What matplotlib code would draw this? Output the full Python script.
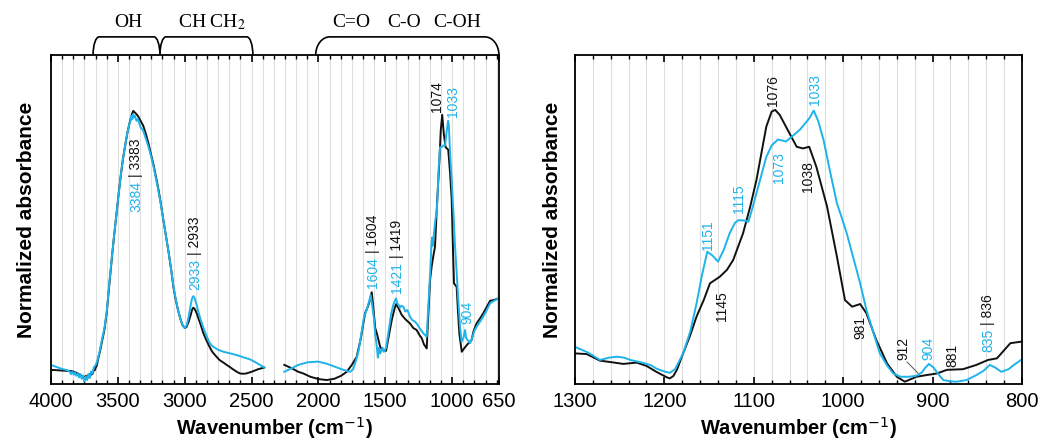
import matplotlib
matplotlib.use("Agg")
import matplotlib.pyplot as plt
from matplotlib.ticker import FixedLocator, MultipleLocator
from matplotlib.path import Path
from matplotlib.patches import PathPatch
from matplotlib.transforms import blended_transform_factory

plt.rcParams["font.family"] = ["Liberation Sans", "DejaVu Sans"]

BLACK = "#111111"
CYAN = "#1EB3EA"

# ---- left panel, full range (two segments, CO2 region cut out) ----
lb1_w = [4000, 3960, 3920, 3880, 3840, 3800, 3775, 3765, 3758, 3750, 3742, 3735, 3727, 3720,
         3712, 3705, 3697, 3690, 3682, 3672, 3665, 3658, 3645, 3633, 3621, 3600, 3583, 3565,
         3546, 3528, 3509, 3494, 3479, 3463, 3447, 3430, 3414, 3400, 3390, 3384, 3375, 3365,
         3350, 3330, 3310, 3290, 3270, 3250, 3235, 3220, 3200, 3180, 3160, 3140, 3120, 3100,
         3085, 3070, 3050, 3030, 3015, 2998, 2985, 2970, 2955, 2945, 2936, 2925, 2910, 2895,
         2880, 2861, 2840, 2820, 2800, 2786, 2760, 2740, 2710, 2686, 2660, 2640, 2610, 2586,
         2560, 2540, 2500, 2450, 2405]
lb1_a = [0.043, 0.042, 0.041, 0.040, 0.039, 0.032, 0.026, 0.018, 0.022, 0.014, 0.024, 0.016,
         0.026, 0.020, 0.030, 0.025, 0.034, 0.030, 0.040, 0.042, 0.050, 0.055, 0.080, 0.100,
         0.124, 0.165, 0.216, 0.295, 0.377, 0.450, 0.520, 0.578, 0.630, 0.680, 0.720, 0.760,
         0.790, 0.812, 0.825, 0.830, 0.826, 0.822, 0.815, 0.800, 0.785, 0.760, 0.730, 0.695,
         0.670, 0.640, 0.600, 0.553, 0.500, 0.450, 0.400, 0.345, 0.296, 0.262, 0.225, 0.195,
         0.178, 0.170, 0.174, 0.190, 0.210, 0.225, 0.232, 0.228, 0.215, 0.197, 0.180, 0.155,
         0.135, 0.118, 0.102, 0.094, 0.082, 0.073, 0.065, 0.058, 0.051, 0.045, 0.037, 0.032,
         0.031, 0.032, 0.037, 0.045, 0.050]

lc1_w = [4000, 3960, 3920, 3880, 3860, 3850, 3840, 3830, 3820, 3810, 3800, 3790, 3780, 3770,
         3760, 3750, 3740, 3730, 3720, 3710, 3700, 3690, 3680, 3665, 3650, 3633, 3621, 3600,
         3583, 3565, 3546, 3528, 3509, 3494, 3479, 3463, 3447, 3430, 3414, 3405, 3398, 3392,
         3386, 3378, 3372, 3360, 3350, 3330, 3310, 3290, 3270, 3250, 3235, 3220, 3200, 3180,
         3160, 3140, 3120, 3100, 3085, 3070, 3050, 3030, 3015, 3000, 2985, 2970, 2955, 2945,
         2935, 2925, 2910, 2895, 2880, 2861, 2840, 2820, 2800, 2786, 2750, 2711, 2660, 2611,
         2560, 2512, 2470, 2437, 2405]
lc1_a = [0.058, 0.052, 0.046, 0.042, 0.038, 0.030, 0.038, 0.028, 0.035, 0.025, 0.032, 0.020,
         0.030, 0.016, 0.026, 0.008, 0.022, 0.012, 0.030, 0.018, 0.038, 0.032, 0.050, 0.058,
         0.075, 0.105, 0.130, 0.170, 0.220, 0.300, 0.380, 0.450, 0.520, 0.575, 0.630, 0.680,
         0.720, 0.760, 0.790, 0.800, 0.815, 0.805, 0.820, 0.810, 0.815, 0.800, 0.805, 0.780,
         0.770, 0.745, 0.720, 0.690, 0.665, 0.635, 0.595, 0.550, 0.500, 0.450, 0.400, 0.345,
         0.300, 0.265, 0.225, 0.195, 0.178, 0.170, 0.178, 0.205, 0.240, 0.260, 0.267, 0.260,
         0.240, 0.215, 0.195, 0.172, 0.150, 0.130, 0.118, 0.113, 0.104, 0.098, 0.093, 0.088,
         0.081, 0.075, 0.066, 0.058, 0.050]

lb2_w = [2255, 2200, 2150, 2113, 2060, 2000, 1938, 1880, 1830, 1788, 1750, 1713, 1680, 1651,
         1630, 1614, 1601, 1590, 1575, 1563, 1538, 1520, 1494, 1470, 1451, 1430, 1419, 1400,
         1377, 1350, 1315, 1290, 1265, 1240, 1228, 1210, 1190, 1180, 1165, 1153, 1140, 1128,
         1115, 1103, 1095, 1085, 1074, 1062, 1049, 1040, 1029, 1015, 1003, 993, 986, 966, 956,
         946, 928, 910, 891, 854, 840, 817, 790, 767, 740, 716, 690, 654]
lb2_a = [0.058, 0.048, 0.037, 0.032, 0.022, 0.015, 0.012, 0.016, 0.025, 0.037, 0.058, 0.083,
         0.144, 0.215, 0.235, 0.255, 0.279, 0.235, 0.170, 0.154, 0.113, 0.103, 0.101, 0.154,
         0.195, 0.230, 0.243, 0.230, 0.210, 0.197, 0.184, 0.170, 0.164, 0.146, 0.140, 0.120,
         0.108, 0.195, 0.316, 0.357, 0.390, 0.417, 0.530, 0.620, 0.680, 0.770, 0.818, 0.760,
         0.720, 0.716, 0.712, 0.640, 0.560, 0.400, 0.306, 0.295, 0.220, 0.154, 0.098, 0.108,
         0.118, 0.134, 0.160, 0.184, 0.200, 0.215, 0.235, 0.253, 0.255, 0.260]

lc2_w = [2255, 2200, 2150, 2080, 2003, 1940, 1880, 1820, 1764, 1740, 1720, 1700, 1680, 1660,
         1640, 1625, 1609, 1598, 1585, 1575, 1565, 1555, 1548, 1538, 1530, 1520, 1510, 1494,
         1475, 1455, 1440, 1430, 1419, 1410, 1400, 1390, 1380, 1365, 1350, 1335, 1315, 1300,
         1280, 1265, 1240, 1215, 1200, 1190, 1180, 1165, 1155, 1150, 1146, 1135, 1125, 1115,
         1108, 1100, 1090, 1078, 1065, 1053, 1040, 1030, 1025, 1015, 1003, 990, 978, 966, 954,
         940, 929, 915, 903, 895, 885, 866, 850, 835, 817, 790, 767, 740, 716, 690, 654]
lc2_a = [0.037, 0.048, 0.058, 0.066, 0.068, 0.062, 0.053, 0.044, 0.037, 0.045, 0.070, 0.100,
         0.150, 0.200, 0.225, 0.245, 0.270, 0.240, 0.200, 0.150, 0.120, 0.080, 0.110, 0.093,
         0.100, 0.110, 0.098, 0.110, 0.160, 0.215, 0.240, 0.252, 0.260, 0.245, 0.240, 0.232,
         0.238, 0.235, 0.220, 0.225, 0.205, 0.195, 0.190, 0.184, 0.168, 0.154, 0.148, 0.144,
         0.220, 0.330, 0.420, 0.445, 0.420, 0.460, 0.500, 0.520, 0.580, 0.660, 0.720, 0.720,
         0.725, 0.725, 0.770, 0.800, 0.790, 0.700, 0.620, 0.520, 0.417, 0.340, 0.255, 0.170,
         0.128, 0.140, 0.164, 0.140, 0.134, 0.124, 0.140, 0.160, 0.174, 0.190, 0.205, 0.225,
         0.245, 0.252, 0.260]

# ---- right panel, 1300-800 zoom ----
rb_w = [1300, 1287, 1272, 1256, 1246, 1231, 1220, 1209, 1197, 1194, 1190, 1186, 1179, 1171,
        1164, 1156, 1149, 1138, 1130, 1123, 1112, 1104, 1097, 1086, 1080, 1076, 1071, 1063,
        1052, 1045, 1038, 1030, 1018, 1007, 998, 990, 981, 974, 963, 951, 940, 931, 918, 907,
        895, 884, 866, 851, 838, 828, 813, 800]
rb_a = [0.093, 0.091, 0.071, 0.065, 0.061, 0.065, 0.055, 0.037, 0.020, 0.017, 0.024, 0.043,
        0.093, 0.149, 0.205, 0.255, 0.306, 0.326, 0.347, 0.377, 0.458, 0.539, 0.620, 0.782,
        0.828, 0.833, 0.818, 0.777, 0.721, 0.716, 0.721, 0.660, 0.539, 0.387, 0.255, 0.235,
        0.243, 0.215, 0.134, 0.063, 0.022, 0.007, 0.022, 0.027, 0.032, 0.043, 0.045, 0.058,
        0.073, 0.078, 0.124, 0.129]

rc_w = [1300, 1285, 1272, 1262, 1253, 1245, 1238, 1225, 1215, 1209, 1200, 1194, 1188, 1179,
        1171, 1164, 1158, 1152, 1146, 1140, 1134, 1127, 1121, 1117, 1111, 1106, 1102, 1097,
        1091, 1086, 1080, 1073, 1068, 1064, 1056, 1048, 1038, 1033, 1028, 1022, 1015, 1007,
        1002, 996, 989, 981, 974, 966, 959, 951, 944, 936, 926, 918, 912, 908, 904, 899, 893,
        888, 880, 873, 862, 851, 843, 836, 830, 823, 815, 808, 800]
rc_a = [0.113, 0.095, 0.073, 0.080, 0.083, 0.080, 0.073, 0.065, 0.057, 0.047, 0.038, 0.034,
        0.045, 0.093, 0.160, 0.245, 0.330, 0.402, 0.390, 0.372, 0.405, 0.458, 0.490, 0.498,
        0.497, 0.493, 0.530, 0.580, 0.640, 0.690, 0.725, 0.743, 0.740, 0.737, 0.755, 0.774,
        0.807, 0.831, 0.800, 0.742, 0.650, 0.549, 0.509, 0.458, 0.387, 0.306, 0.225, 0.154,
        0.093, 0.057, 0.032, 0.022, 0.022, 0.025, 0.035, 0.050, 0.061, 0.050, 0.028, 0.012,
        0.008, 0.007, 0.012, 0.027, 0.040, 0.058, 0.050, 0.037, 0.045, 0.060, 0.075]

left_major = [4000, 3500, 3000, 2500, 2000, 1500, 1000, 650]
right_major = [1300, 1200, 1100, 1000, 900, 800]

# band groups above the left panel: (label, x)
groups = [("OH", 3424), ("CH CH$_2$", 2796), ("C=O", 1756), ("C-O", 1360), ("C-OH", 963)]
braces = [(3685, 3185, 45), (3185, 2490, 45), (2020, 650, 105)]

# peak labels: (text, x, y, colour)
left_single = [("1074", 1113, 0.875, BLACK), ("1033", 993, 0.857, CYAN), ("904", 889, 0.216, CYAN)]
left_pairs = [("3384", "3383", 3364, 0.623), ("2933", "2933", 2923, 0.386),
              ("1604", "1604", 1592, 0.392), ("1421", "1419", 1412, 0.377)]
right_single = [("1076", 1078, 0.891, BLACK), ("1033", 1031, 0.894, CYAN),
                ("1073", 1072, 0.657, CYAN), ("1038", 1039, 0.629, BLACK),
                ("1115", 1117, 0.562, CYAN), ("1151", 1151, 0.453, CYAN),
                ("1145", 1136, 0.237, BLACK), ("981", 981, 0.173, BLACK),
                ("912", 933, 0.109, BLACK), ("904", 905, 0.109, CYAN),
                ("881", 878, 0.088, BLACK)]
right_pairs = [("835", "836", 838, 0.173)]

fig = plt.figure(figsize=(10.55, 4.43), dpi=100)
ax1 = fig.add_axes([0.0483, 0.1332, 0.4246, 0.7427])
ax2 = fig.add_axes([0.545, 0.1332, 0.4237, 0.7427])


def style(ax):
    ax.set_ylim(0, 1)
    ax.set_yticks([])
    ax.set_axisbelow(True)
    ax.grid(axis="x", which="both", color="#dedede", lw=0.8)
    ax.tick_params(axis="x", which="both", direction="in", top=True, labelsize=14.5, pad=6)
    ax.tick_params(axis="x", which="major", length=5, width=1.2)
    ax.tick_params(axis="x", which="minor", length=3, width=1.0)
    for s in ax.spines.values():
        s.set_linewidth(1.3)
    ax.set_xlabel("Wavenumber (cm$^{-1}$)", fontsize=14.5, fontweight="bold", labelpad=2.5)


def pair_label(ax, cyan_txt, black_txt, x, y):
    ax.text(x, y - 0.006, cyan_txt, rotation=90, ha="center", va="top", color=CYAN, fontsize=10)
    ax.text(x, y + 0.006, "| " + black_txt, rotation=90, ha="center", va="bottom",
            color=BLACK, fontsize=10)


# left
ax1.plot(lb1_w, lb1_a, color=BLACK, lw=1.4)
ax1.plot(lb2_w, lb2_a, color=BLACK, lw=1.4)
ax1.plot(lc1_w, lc1_a, color=CYAN, lw=1.4)
ax1.plot(lc2_w, lc2_a, color=CYAN, lw=1.4)
ax1.set_xlim(4000, 650)
ax1.xaxis.set_major_locator(FixedLocator(left_major))
ax1.xaxis.set_minor_locator(MultipleLocator(500 / 6))
style(ax1)
ax1.set_ylabel("Normalized absorbance", fontsize=15, fontweight="bold", labelpad=11)

for t, x, y, c in left_single:
    ax1.text(x, y, t, rotation=90, ha="center", va="center", color=c, fontsize=10)
for ct, bt, x, y in left_pairs:
    pair_label(ax1, ct, bt, x, y)

tr = blended_transform_factory(ax1.transData, ax1.transAxes)
k = 0.5523
h = 0.055
for x0, x1, dx in braces:
    verts = [(x0, 1.0), (x0, 1 + k * h), (x0 - (1 - k) * dx, 1 + h), (x0 - dx, 1 + h),
             (x1 + dx, 1 + h),
             (x1 + (1 - k) * dx, 1 + h), (x1, 1 + k * h), (x1, 1.0)]
    codes = [Path.MOVETO, Path.CURVE4, Path.CURVE4, Path.CURVE4, Path.LINETO,
             Path.CURVE4, Path.CURVE4, Path.CURVE4]
    ax1.add_patch(PathPatch(Path(verts, codes), transform=tr, fill=False, lw=1.2,
                            color="black", clip_on=False))
for t, x in groups:
    ax1.text(x, 1.10, t, transform=tr, ha="center", va="center", fontsize=14,
             family="Liberation Serif", math_fontfamily="stix")

# right
ax2.plot(rb_w, rb_a, color=BLACK, lw=1.4)
ax2.plot(rc_w, rc_a, color=CYAN, lw=1.4)
ax2.set_xlim(1300, 800)
ax2.xaxis.set_major_locator(FixedLocator(right_major))
ax2.xaxis.set_minor_locator(MultipleLocator(20))
style(ax2)
ax2.set_ylabel("Normalized absorbance", fontsize=15, fontweight="bold", labelpad=9)

for t, x, y, c in right_single:
    ax2.text(x, y, t, rotation=90, ha="center", va="center", color=c, fontsize=10)
for ct, bt, x, y in right_pairs:
    pair_label(ax2, ct, bt, x, y)
ax2.plot([928.6, 916.3], [0.067, 0.033], color="#555555", lw=0.7)

fig.savefig("out.png", dpi=100)
